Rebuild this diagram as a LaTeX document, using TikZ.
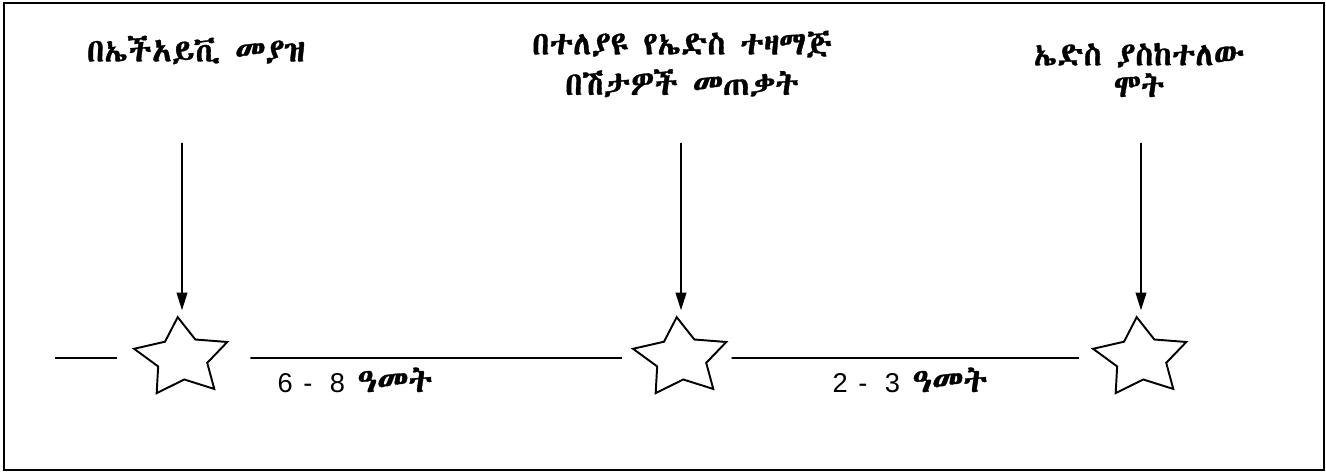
\documentclass[tikz,border=0pt]{standalone}
\usepackage{fontspec}
\setmainfont{Liberation Sans}
\IfFontExistsTF{Abyssinica SIL}{\newfontfamily\ethfont[Script=Ethiopic,FakeBold=1.0]{Abyssinica SIL}}{%
  \IfFontExistsTF{FreeSerif}{\newfontfamily\ethfont[Script=Ethiopic,FakeBold=1.0]{FreeSerif}}{%
    \newfontfamily\ethfont{DejaVu Sans}}}
\usetikzlibrary{shapes.geometric,arrows.meta}

\begin{document}
\begin{tikzpicture}[x=0.02cm, y=-0.02cm, line width=1.1pt, >={Triangle[length=10pt,width=6pt]},
    event/.style={star, star points=5, star point ratio=1.9, draw, minimum size=1.64cm,
      inner sep=0pt, xscale=1.2, rotate=5},
    stagetext/.style={font=\ethfont\fontsize{18.5}{23}\selectfont, align=center},
    yearstext/.style={font=\fontsize{15.5}{18}\selectfont}]
    \useasboundingbox (0,0) rectangle (1326,473);
    \draw[line width=1.3pt] (4,3) rectangle (1324,470);
    % stages on the time line
    \node[event] (s1) at (182,358) {};
    \node[event] (s2) at (681,358) {};
    \node[event] (s3) at (1141,358) {};
    % texts above
    \node[stagetext] (t1) at (196,50) {በኤችአይቪ መያዝ};
    \node[stagetext] (t2) at (682,64) {በተለያዩ የኤድስ ተዛማጅ\\በሽታዎች መጠቃት};
    \node[stagetext, font=\ethfont\fontsize{18.5}{18}\selectfont] (t3) at (1139,70) {ኤድስ ያስከተለው\\ሞት};
    % arrows down to the stars
    \coordinate (a1) at (182,143);
    \coordinate (a2) at (681,143);
    \coordinate (a3) at (1141,143);
    \draw[->, shorten >=6pt] (a1) -- (s1);
    \draw[->, shorten >=6pt] (a2) -- (s2);
    \draw[->, shorten >=6pt] (a3) -- (s3);
    % time line
    \coordinate (start) at (55,358);
    \draw[shorten >=16pt] (start) -- (s1);
    \draw[shorten <=21pt, shorten >=12.6pt] (s1) -- (s2);
    \draw[shorten <=11pt, shorten >=14.2pt] (s2) -- (s3);
    % durations
    \node[yearstext] (d1) at (355,380) {6\hspace{6pt}-\hspace{10pt}8\hspace{7pt}{\ethfont\fontsize{19}{20}\selectfont ዓመት}};
    \node[yearstext] (d2) at (910,380) {2\hspace{6pt}-\hspace{10pt}3\hspace{7pt}{\ethfont\fontsize{19}{20}\selectfont ዓመት}};
\end{tikzpicture}
\end{document}
